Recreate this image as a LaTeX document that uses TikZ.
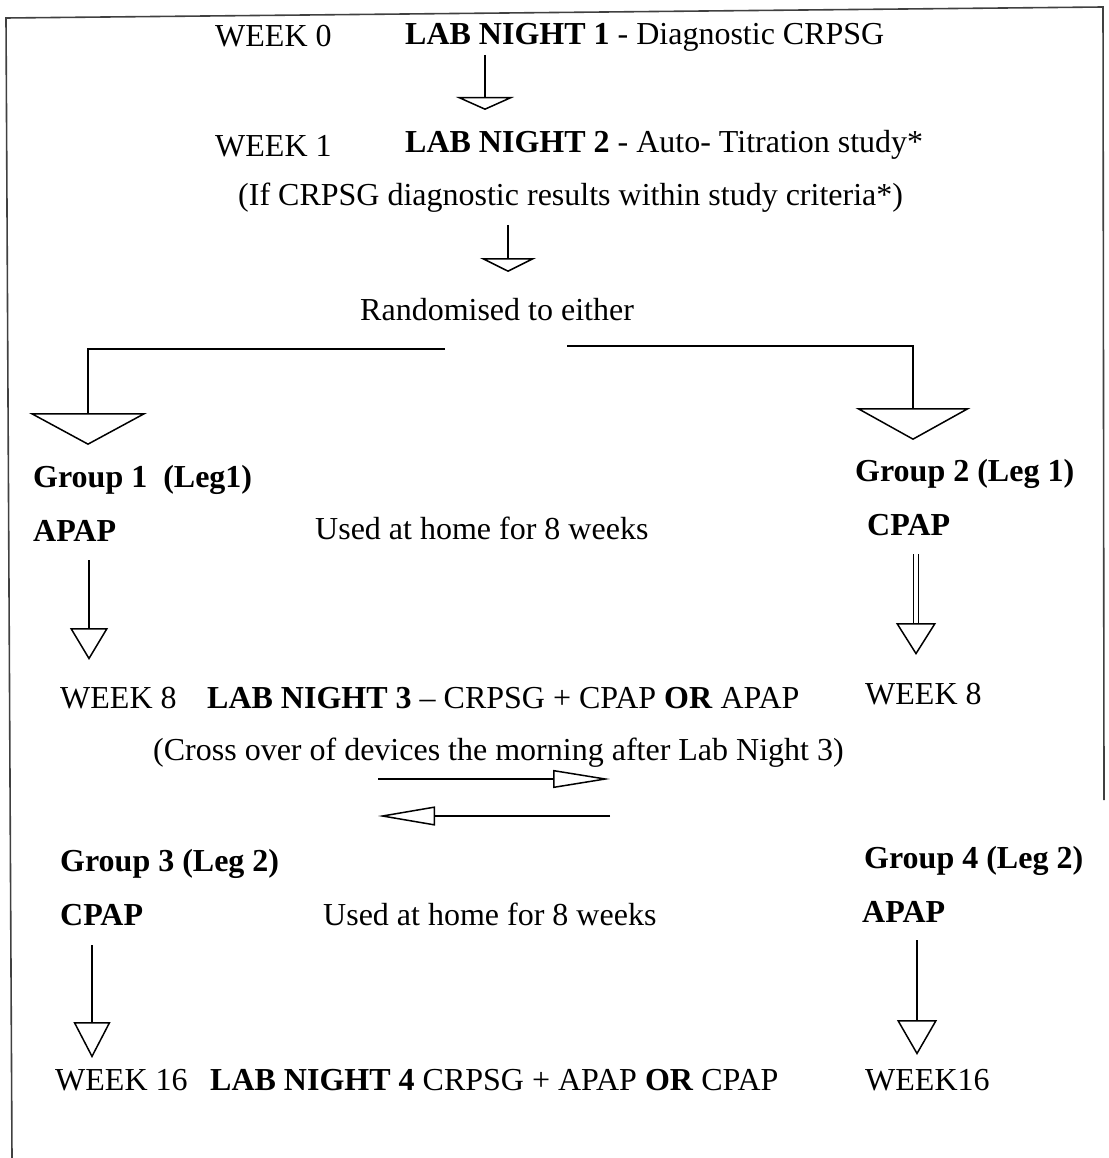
\documentclass[tikz,border=0pt]{standalone}
\usepackage{fontspec}
\setmainfont{Liberation Serif}
\usetikzlibrary{arrows.meta}
\begin{document}
\begin{tikzpicture}[x=1pt,y=-1pt,
  txt/.style={anchor=base west,inner sep=0pt,font=\fontsize{32}{38}\selectfont},
  bold/.style={txt,font=\fontsize{32}{38}\selectfont\bfseries},
  tri/.style 2 args={-{Triangle[open,length=#2,width=#1]},line width=1.5pt},
  dbl/.style={line width=1.2pt,double distance=3.6pt}]
  \useasboundingbox (0,0) rectangle (1108,1158);
  % Frame
  \draw[line width=1.6pt,black!75] (12,1158) -- (6,18) -- (1103,7) -- (1104,800);
  % Lab nights 1 and 2
  \node[txt] (wk0) at (215,47) {WEEK 0};
  \node[txt] (ln1) at (405,45) {\textbf{LAB NIGHT 1} - Diagnostic CRPSG};
  \node[txt] (wk1) at (215,157) {WEEK 1};
  \node[txt] (ln2) at (405,153) {\textbf{LAB NIGHT 2} - Auto- Titration study*};
  \node[txt] (crit) at (238,206) {(If CRPSG diagnostic results within study criteria*)};
  \node[txt] (rnd) at (360,320) {Randomised to either};
  \coordinate (a1) at (485,55);  \coordinate (b1) at (485,110);
  \coordinate (a2) at (508,225); \coordinate (b2) at (508,272);
  \draw[tri={58}{13}] (a1) -- (b1);
  \draw[tri={56}{14}] (a2) -- (b2);
  % Randomisation
  \coordinate (la) at (445,349); \coordinate (lb) at (88,445);
  \coordinate (ra) at (567,346); \coordinate (rb) at (913,440);
  \draw[tri={118}{32}] (la) -| (lb);
  \draw[tri={115}{32}] (ra) -| (rb);
  % Leg 1
  \node[bold] (g1) at (33,487) {Group 1\ \ (Leg1)};
  \node[bold] (g2) at (855,481) {Group 2 (Leg 1)};
  \node[bold] (apap1) at (33,541) {APAP};
  \node[txt] (home1) at (315,539) {Used at home for 8 weeks};
  \node[bold] (cpap1) at (867,535) {CPAP};
  \coordinate (a3) at (89,560);  \coordinate (b3) at (89,660);
  \coordinate (a4) at (916,554); \coordinate (m4) at (916,623); \coordinate (b4) at (916,655);
  \draw[tri={38}{32}] (a3) -- (b3);
  \draw[dbl] (a4) -- (m4);
  \draw[tri={40}{32}] (m4) -- (b4);
  % Lab night 3 and cross over
  \node[txt] (wk8l) at (60,708) {WEEK 8};
  \node[txt] (ln3) at (207,708) {\textbf{LAB NIGHT 3} -- CRPSG + CPAP \textbf{OR} APAP};
  \node[txt] (wk8r) at (865,704) {WEEK 8};
  \node[txt] (cross) at (153,760) {(Cross over of devices the morning after Lab Night 3)};
  \coordinate (xa) at (378,779); \coordinate (xb) at (610,779);
  \coordinate (ya) at (610,816); \coordinate (yb) at (378,816);
  \draw[tri={18}{57}] (xa) -- (xb);
  \draw[tri={19}{57}] (ya) -- (yb);
  % Leg 2
  \node[bold] (g3) at (60,871) {Group 3 (Leg 2)};
  \node[bold] (g4) at (864,868) {Group 4 (Leg 2)};
  \node[bold] (cpap2) at (60,925) {CPAP};
  \node[txt] (home2) at (323,925) {Used at home for 8 weeks};
  \node[bold] (apap2) at (862,922) {APAP};
  \coordinate (a5) at (92,945);  \coordinate (b5) at (92,1058);
  \coordinate (a6) at (917,940); \coordinate (b6) at (917,1055);
  \draw[tri={37}{36}] (a5) -- (b5);
  \draw[tri={40}{35}] (a6) -- (b6);
  % Lab night 4
  \node[txt] (wk16l) at (55,1090) {WEEK 16};
  \node[txt] (ln4) at (210,1090) {\textbf{LAB NIGHT 4} CRPSG + APAP \textbf{OR} CPAP};
  \node[txt] (wk16r) at (865,1090) {WEEK16};
\end{tikzpicture}
\end{document}
